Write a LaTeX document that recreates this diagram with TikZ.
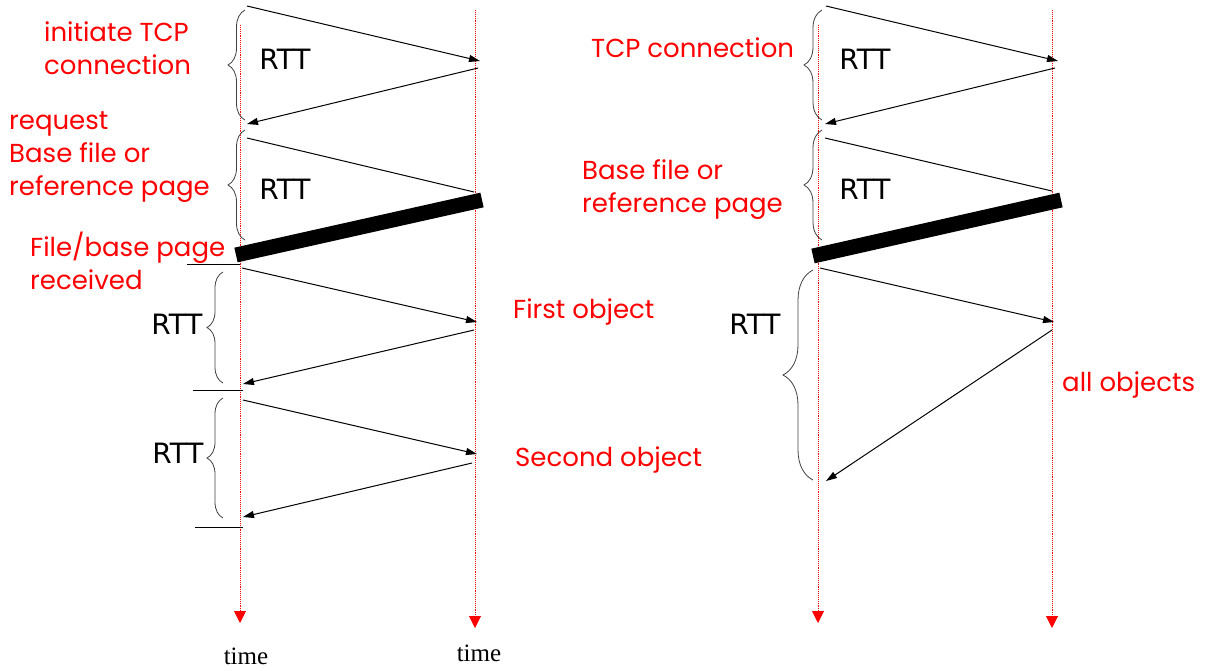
\documentclass[tikz,border=0pt]{standalone}
\usepackage{fontspec}
\setmainfont{Liberation Serif}
\newfontfamily\notefont{Poppins}
\newfontfamily\rttfont{DejaVu Sans}
\usetikzlibrary{arrows.meta,decorations.pathreplacing}

\begin{document}
\begin{tikzpicture}[x=1pt,y=-1pt,>={Triangle[length=11pt,width=7pt]},
  msg/.style={->,line width=1pt},
  bulk/.style={line width=15pt},
  tick/.style={line width=1pt},
  timeline/.style={red,densely dotted,line width=0.9pt,-{Triangle[length=12pt,width=12pt]}},
  brc/.style={decorate,decoration={brace,amplitude=#1},line width=0.8pt,black!75},
  note/.style={text=red,font=\notefont\fontsize{26}{33}\selectfont,align=left,anchor=west,inner sep=0pt},
  rtt/.style={font=\rttfont\fontsize{28}{30}\selectfont,inner sep=0pt},
  tlabel/.style={font=\fontsize{25}{28}\selectfont,inner sep=0pt}]
\useasboundingbox (0,0) rectangle (1217,670);
% time lines
\coordinate (c0) at (240,25);  \coordinate (c1) at (240,623);
\coordinate (s0) at (475,10);  \coordinate (s1) at (475,628);
\coordinate (pc0) at (818,25); \coordinate (pc1) at (818,623);
\coordinate (ps0) at (1052,10);\coordinate (ps1) at (1052,628);
\foreach \a/\b in {c0/c1,s0/s1,pc0/pc1,ps0/ps1}{\draw[timeline] (\a)--(\b);}
% non-persistent, one object per connection
\coordinate (synA) at (247,6);   \coordinate (synB) at (480,61);
\coordinate (ackA) at (478,68);  \coordinate (ackB) at (247,124);
\coordinate (reqA) at (247,138); \coordinate (reqB) at (474,192);
\coordinate (baseA) at (236,255);\coordinate (baseB) at (482,200);
\coordinate (o1A) at (242,268);  \coordinate (o1B) at (477,322);
\coordinate (r1A) at (474,330);  \coordinate (r1B) at (243,384);
\coordinate (o2A) at (243,400);  \coordinate (o2B) at (477,454);
\coordinate (r2A) at (472,463);  \coordinate (r2B) at (243,517);
\foreach \a/\b in {synA/synB,ackA/ackB,o1A/o1B,r1A/r1B,o2A/o2B,r2A/r2B}{\draw[msg] (\a)--(\b);}
\draw[line width=1pt] (reqA)--(reqB);
\draw[bulk] (baseA)--(baseB);
\coordinate (t1a) at (187,264); \coordinate (t1b) at (240,264);
\coordinate (t2a) at (193,390); \coordinate (t2b) at (243,390);
\coordinate (t3a) at (195,527); \coordinate (t3b) at (243,527);
\foreach \a/\b in {t1a/t1b,t2a/t2b,t3a/t3b}{\draw[tick] (\a)--(\b);}
% pipelined
\coordinate (psynA) at (826,6);   \coordinate (psynB) at (1058,61);
\coordinate (packA) at (1055,68); \coordinate (packB) at (825,124);
\coordinate (preqA) at (825,138); \coordinate (preqB) at (1052,191);
\coordinate (pbaseA) at (813,256);\coordinate (pbaseB) at (1061,200);
\coordinate (pobjA) at (820,268); \coordinate (pobjB) at (1054,322);
\coordinate (pallA) at (1052,330);\coordinate (pallB) at (826,481);
\foreach \a/\b in {psynA/psynB,packA/packB,pobjA/pobjB,pallA/pallB}{\draw[msg] (\a)--(\b);}
\draw[line width=1pt] (preqA)--(preqB);
\draw[bulk] (pbaseA)--(pbaseB);
% braces
\foreach \x/\ya/\yb/\amp in {245/10/120/17,245/130/240/17,223/272/383/16,223/398/518/16,
  822/10/120/18,822/130/240/18,813/270/480/30}{\draw[brc=\amp pt] (\x,\yb)--(\x,\ya);}
% labels
\node[rtt] (rtt1) at (285,59) {RTT};
\node[rtt] (rtt2) at (285,189) {RTT};
\node[rtt] (rtt3) at (177,324) {RTT};
\node[rtt] (rtt4) at (178,453) {RTT};
\node[rtt] (prtt1) at (865,59) {RTT};
\node[rtt] (prtt2) at (865,189) {RTT};
\node[rtt] (prtt3) at (755,324) {RTT};
\node[note] (initiate) at (44,48) {initiate TCP\\connection};
\node[note] (request) at (9,157) {request\\Base file or\\reference page};
\node[note] (received) at (30,261) {File/base page\\received};
\node[note] (first) at (513,312) {First object};
\node[note] (second) at (515,460) {Second object};
\node[note] (ptcp) at (591,48) {TCP connection};
\node[note] (pbase) at (582,190) {Base file or\\reference page};
\node[note] (pall) at (1062,385) {all objects};
\node[tlabel] (time1) at (246,656) {time};
\node[tlabel] (time2) at (479,653) {time};
\end{tikzpicture}
\end{document}
